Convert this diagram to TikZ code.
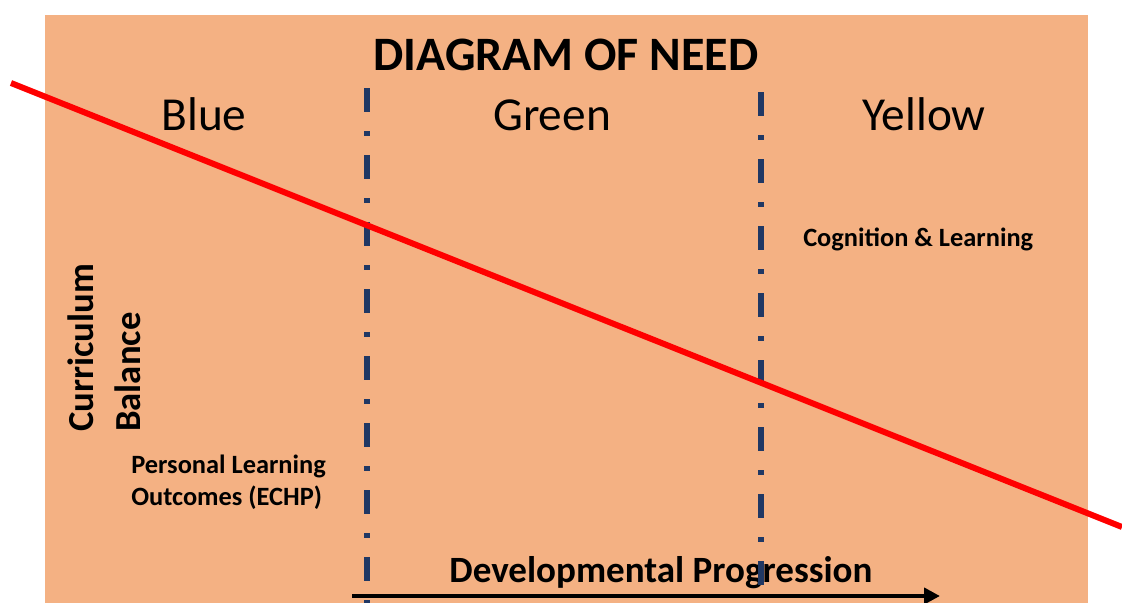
\documentclass[tikz,border=0pt]{standalone}
\usepackage{fontspec}
\setmainfont{Carlito}
\usetikzlibrary{arrows.meta}
\definecolor{bgorange}{HTML}{F4B183}
\definecolor{navy}{HTML}{203864}
\definecolor{redline}{HTML}{FF0000}
\begin{document}
\begin{tikzpicture}[x=0.75pt,y=-0.75pt,
  title/.style={font=\bfseries\fontsize{36}{43}\selectfont, anchor=base, inner sep=0pt},
  zone/.style={font=\fontsize{35.5}{42}\selectfont, anchor=base, inner sep=0pt},
  small/.style={font=\bfseries\fontsize{19.8}{24}\selectfont, anchor=base west, inner sep=0pt},
  axislabel/.style={font=\bfseries\fontsize{27.5}{33}\selectfont, anchor=base west, inner sep=0pt, rotate=90},
  bottomlabel/.style={font=\bfseries\fontsize{27.8}{33}\selectfont, anchor=base, inner sep=0pt},
  divider/.style={navy, line width=4.5pt, line cap=butt, dash pattern=on 18pt off 14.25pt on 3.75pt off 14.25pt},
  balanceline/.style={redline, line width=4.5pt},
  progress/.style={black, line width=3pt, -{Triangle[length=12pt, width=12pt]}}
]
\useasboundingbox (0,0) rectangle (1122,603);
\fill[bgorange] (45,15) rectangle (1088,603);

\node[title] (title) at (566,70) {DIAGRAM OF NEED};
\node[zone] (blue) at (204,130) {Blue};
\node[zone] (green) at (552,130) {Green};
\node[zone] (yellow) at (924,130) {Yellow};

\node[small] (cog) at (803,246) {Cognition \& Learning};
\node[small] (plo1) at (131,473) {Personal Learning};
\node[small] (plo2) at (131,505) {Outcomes (ECHP)};

\node[axislabel] (curr) at (93,432) {Curriculum};
\node[axislabel] (bal) at (140,432) {Balance};

\node[bottomlabel] (dev) at (661,582) {Developmental Progression};

\coordinate (arrA) at (352,596);
\coordinate (arrB) at (940,596);
\draw[progress] (arrA) -- (arrB);

\coordinate (d1top) at (367,88);
\coordinate (d1bot) at (367,603);
\coordinate (d2top) at (761,92);
\coordinate (d2bot) at (761,603);
\draw[divider] (d1top) -- (d1bot);
\draw[divider] (d2top) -- (d2bot);

\coordinate (redA) at (11,83);
\coordinate (redB) at (1122,527);
\draw[balanceline] (redA) -- (redB);
\end{tikzpicture}
\end{document}
